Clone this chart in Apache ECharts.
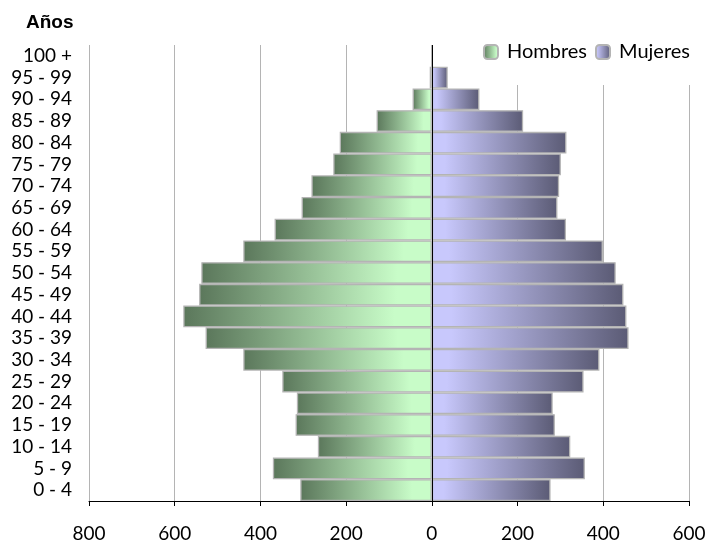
<!DOCTYPE html>
<html>
<head>
<meta charset="utf-8">
<script src="https://cdn.jsdelivr.net/npm/echarts@6/dist/echarts.min.js"></script>
<style>
html,body{margin:0;padding:0;background:#fff;}
#c{width:714px;height:545px;}
</style>
</head>
<body>
<div id="c"></div>
<script>
var categories = ['0 - 4','5 - 9','10 - 14','15 - 19','20 - 24','25 - 29','30 - 34','35 - 39','40 - 44','45 - 49','50 - 54','55 - 59','60 - 64','65 - 69','70 - 74','75 - 79','80 - 84','85 - 89','90 - 94','95 - 99','100 +'];
var hombres = [307, 371, 266, 318, 315, 349, 440, 528, 580, 543, 538, 440, 367, 304, 281, 230, 215, 129, 45, 5, 0];
var mujeres = [277, 357, 323, 287, 282, 354, 391, 459, 454, 447, 429, 399, 313, 293, 297, 301, 314, 213, 111, 37, 0];
var xTicks = [-800, -600, -400, -200, 0, 200, 400, 600];

var FONT = 'Lato';
var chart = echarts.init(document.getElementById('c'), null, {renderer: 'canvas'});

var menGrad = new echarts.graphic.LinearGradient(0, 0, 1, 0, [
  {offset: 0, color: '#5b775b'},
  {offset: 0.85, color: '#c8fcc8'},
  {offset: 1, color: '#c8fcc8'}
]);
var womenGrad = new echarts.graphic.LinearGradient(0, 0, 1, 0, [
  {offset: 0, color: '#c8c8fc'},
  {offset: 0.1, color: '#c8c8fc'},
  {offset: 1, color: '#5b5b75'}
]);

chart.setOption({
  animation: false,
  backgroundColor: '#fff',
  title: {
    text: 'Años',
    left: 21, top: 8,
    textStyle: {fontFamily: 'Liberation Sans', fontWeight: 'bold', fontSize: 19, color: '#000'}
  },
  legend: {
    right: 10, top: 38,
    backgroundColor: '#fff',
    padding: [4, 14, 23, 26],
    itemWidth: 14, itemHeight: 14, itemGap: 8,
    textStyle: {fontFamily: FONT, fontSize: 20, color: '#000', padding: [0, 0, 0, 4]},
    data: ['Hombres', 'Mujeres']
  },
  grid: {left: 89, right: 25, top: 45, bottom: 44, containLabel: false},
  xAxis: {
    type: 'value',
    min: xTicks[0], max: xTicks[xTicks.length - 1], interval: 200,
    axisLine: {show: true, lineStyle: {color: '#000', width: 1}},
    axisTick: {show: true, length: 5, lineStyle: {color: '#000'}},
    axisLabel: {
      margin: 23, fontFamily: FONT, fontSize: 19, color: '#000',
      formatter: function (v) { return Math.abs(v); }
    },
    splitLine: {show: true, lineStyle: {color: '#b4b4b4', width: 1}}
  },
  yAxis: {
    type: 'category',
    data: categories,
    axisLine: {show: false},
    axisTick: {show: false},
    axisLabel: {interval: 0, margin: 17, fontFamily: FONT, fontSize: 19, color: '#000'},
    splitLine: {show: false}
  },
  series: [
    {
      name: 'Hombres', type: 'bar',
      data: hombres.map(function (v) { return -v; }),
      barCategoryGap: '0%', barGap: '-100%',
      itemStyle: {color: menGrad, borderColor: '#b4b4b4', borderWidth: 1.3},
      markLine: {
        silent: true, symbol: ['none', 'none'], label: {show: false},
        lineStyle: {color: '#000', width: 1, type: 'solid'},
        data: [{xAxis: 0}]
      }
    },
    {
      name: 'Mujeres', type: 'bar',
      data: mujeres,
      barCategoryGap: '0%', barGap: '-100%',
      itemStyle: {color: womenGrad, borderColor: '#b4b4b4', borderWidth: 1.3}
    }
  ]
});
</script>
</body>
</html>
